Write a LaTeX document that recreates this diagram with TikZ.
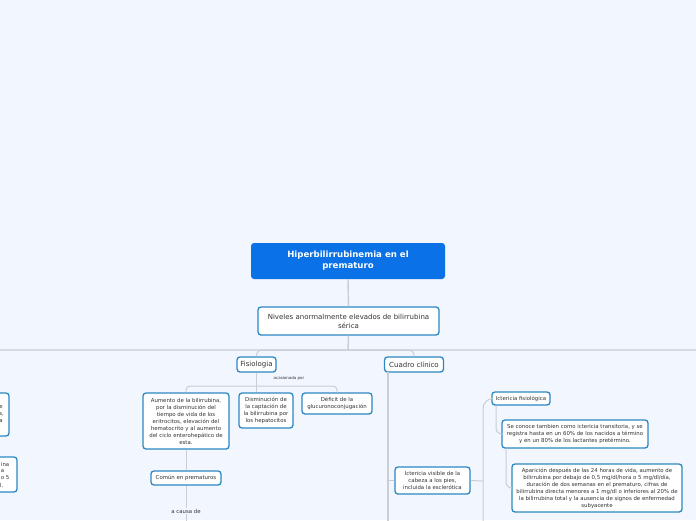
\documentclass[tikz,border=0pt]{standalone}
\usepackage{fontspec}
\setmainfont{DejaVu Sans}
\definecolor{bgc}{HTML}{F2F6FE}
\definecolor{rootc}{HTML}{0A72E6}
\definecolor{bordc}{HTML}{2C87C3}
\definecolor{linec}{HTML}{C9CDD4}
\definecolor{bandc}{HTML}{D6DBE3}
\definecolor{txtc}{HTML}{333333}
\tikzset{
  box/.style={draw=bordc, line width=1.3pt, rounded corners=3pt, fill=white,
    text=txtc, align=center, inner sep=0pt,
    font=\fontsize{5.4}{7}\selectfont},
  bigbox/.style={box, font=\fontsize{7}{9}\selectfont},
  rootbox/.style={fill=rootc, rounded corners=3pt, text=white, align=center,
    inner sep=0pt, font=\fontsize{8.6}{11}\selectfont\bfseries},
  frag/.style={text=txtc, inner sep=0pt, anchor=east,
    font=\fontsize{5.4}{7}\selectfont},
  conn/.style={draw=linec, line width=1pt},
  thick conn/.style={draw=linec, line width=1.4pt},
}
\begin{document}
\begin{tikzpicture}[x=1pt,y=-1pt]
\fill[bgc] (0,0) rectangle (696,520);
\useasboundingbox (0,0) rectangle (696,520);
\clip (0,0) rectangle (696,520);

% long band line
\draw[draw=bandc, line width=1.8pt] (0,350) -- (696,350);

% nodes
\node[rootbox, minimum width=194, minimum height=36] (root) at (348,261)
  {Hiperbilirrubinemia en el\\prematuro};
\node[bigbox, minimum width=181, minimum height=28] (niv) at (348.5,321)
  {Niveles anormalmente elevados de bilirrubina\\sérica};
\node[bigbox, minimum width=39, minimum height=15] (fis) at (256.5,364.5) {Fisiologia};
\node[bigbox, minimum width=59, minimum height=15] (cua) at (414,364.5) {Cuadro clínico};

\node[box, minimum width=86, minimum height=56] (n1) at (186,421)
  {Aumento de la bilirrubina,\\por la disminución del\\tiempo de vida de los\\eritrocitos, elevación del\\hematocrito y al aumento\\del ciclo enterohepático de\\esta.};
\node[box, minimum width=54, minimum height=35] (n2) at (266,410.5)
  {Disminución de\\la captación de\\la bilirrubina por\\los hepatocitos};
\node[box, minimum width=70, minimum height=21] (n3) at (337,403.5)
  {Déficit de la\\glucuronoconjugación};
\node[box, minimum width=70, minimum height=14] (com) at (186,478) {Común en prematuros};
\node[text=txtc, inner sep=1pt, font=\fontsize{5.4}{7}\selectfont] (acausa) at (186,511) {a causa de};
\node[text=txtc, inner sep=0pt, font=\fontsize{4}{4.5}\selectfont] (ocas) at (289,378) {ocasionada por};

\node[box, minimum width=75, minimum height=27] (ivis) at (432.5,480.5)
  {Ictericia visible de la\\cabeza a los pies,\\incluida la esclerótica};
\node[box, minimum width=58, minimum height=13] (ifis) at (521,398.5) {Ictericia fisiológica};
\node[box, minimum width=146, minimum height=28] (seco) at (575,434)
  {Se conoce tambien como ictericia transitoria, y se\\registra hasta en un 60\% de los nacidos a término\\y en un 80\% de los lactantes pretérmino.};
\node[box, minimum width=170, minimum height=48] (apar) at (597,488)
  {Aparición después de las 24 horas de vida, aumento de\\bilirrubina por debajo de 0,5 mg/dl/hora o 5 mg/dl/día,\\duración de dos semanas en el prematuro, cifras de\\bilirrubina directa menores a 1 mg/dl o inferiores al 20\% de\\la bilirrubina total y la ausencia de signos de enfermedad\\subyacente};

% clipped nodes at the left edge
\node[box, minimum width=80, minimum height=43] (la) at (-31,414.5) {};
\node[frag] (la1) at (3,407.5) {e};
\node[frag] (la2) at (4,414.5) {s,};
\node[frag] (la3) at (3,421.5) {a};
\node[box, minimum width=80, minimum height=35] (lb) at (-23,474.5) {};
\node[frag] (lb1) at (9.5,464) {ina};
\node[frag] (lb2) at (4.5,471) {a};
\node[frag] (lb3) at (9.5,478) {o 5};
\node[frag] (lb4) at (3.5,485) {l.};

% connectors
\draw[thick conn] (root.south) -- (niv.north);
\draw[thick conn] (niv.south) -- (348,350) coordinate (hub);
\draw[conn, rounded corners=5pt] (hub) -| (fis.north);
\draw[conn, rounded corners=5pt] (hub) -| (cua.north);

\draw[conn] (fis.south) -- (fis.south |- n2.north);
\coordinate (fj) at (257,386);
\draw[conn, rounded corners=4pt] (fj) -| (n1.north);
\draw[conn, rounded corners=4pt] (fj) -| (n3.north);

\draw[conn] (n1.south) -- (com.north);
\draw[conn] (com.south) -- (acausa.north);
\coordinate (cbot) at (186,521);
\draw[conn] (acausa.south) -- (cbot);

\coordinate (cuadl) at (388,372);
\coordinate (cuadb) at (388,521);
\draw[thick conn] (cuadl) -- (cuadb);
\draw[conn] (ivis.west -| cuadl) -- (ivis.west);

\coordinate (ibr) at (483,481);
\coordinate (ibot) at (483,521);
\draw[conn] (ivis.east) -- (ibr);
\draw[conn, rounded corners=10pt] (ibot) -- (483,398.5) -- (ifis.west);
\draw[conn, rounded corners=6pt] ([xshift=-25pt]ifis.south) -- ([xshift=-25pt]ifis.south |- seco.west) -- (seco.west);
\draw[conn, rounded corners=6pt] ([xshift=-69pt]seco.south) -- ([xshift=-69pt]seco.south |- apar.west) -- (apar.west);
\end{tikzpicture}
\end{document}
